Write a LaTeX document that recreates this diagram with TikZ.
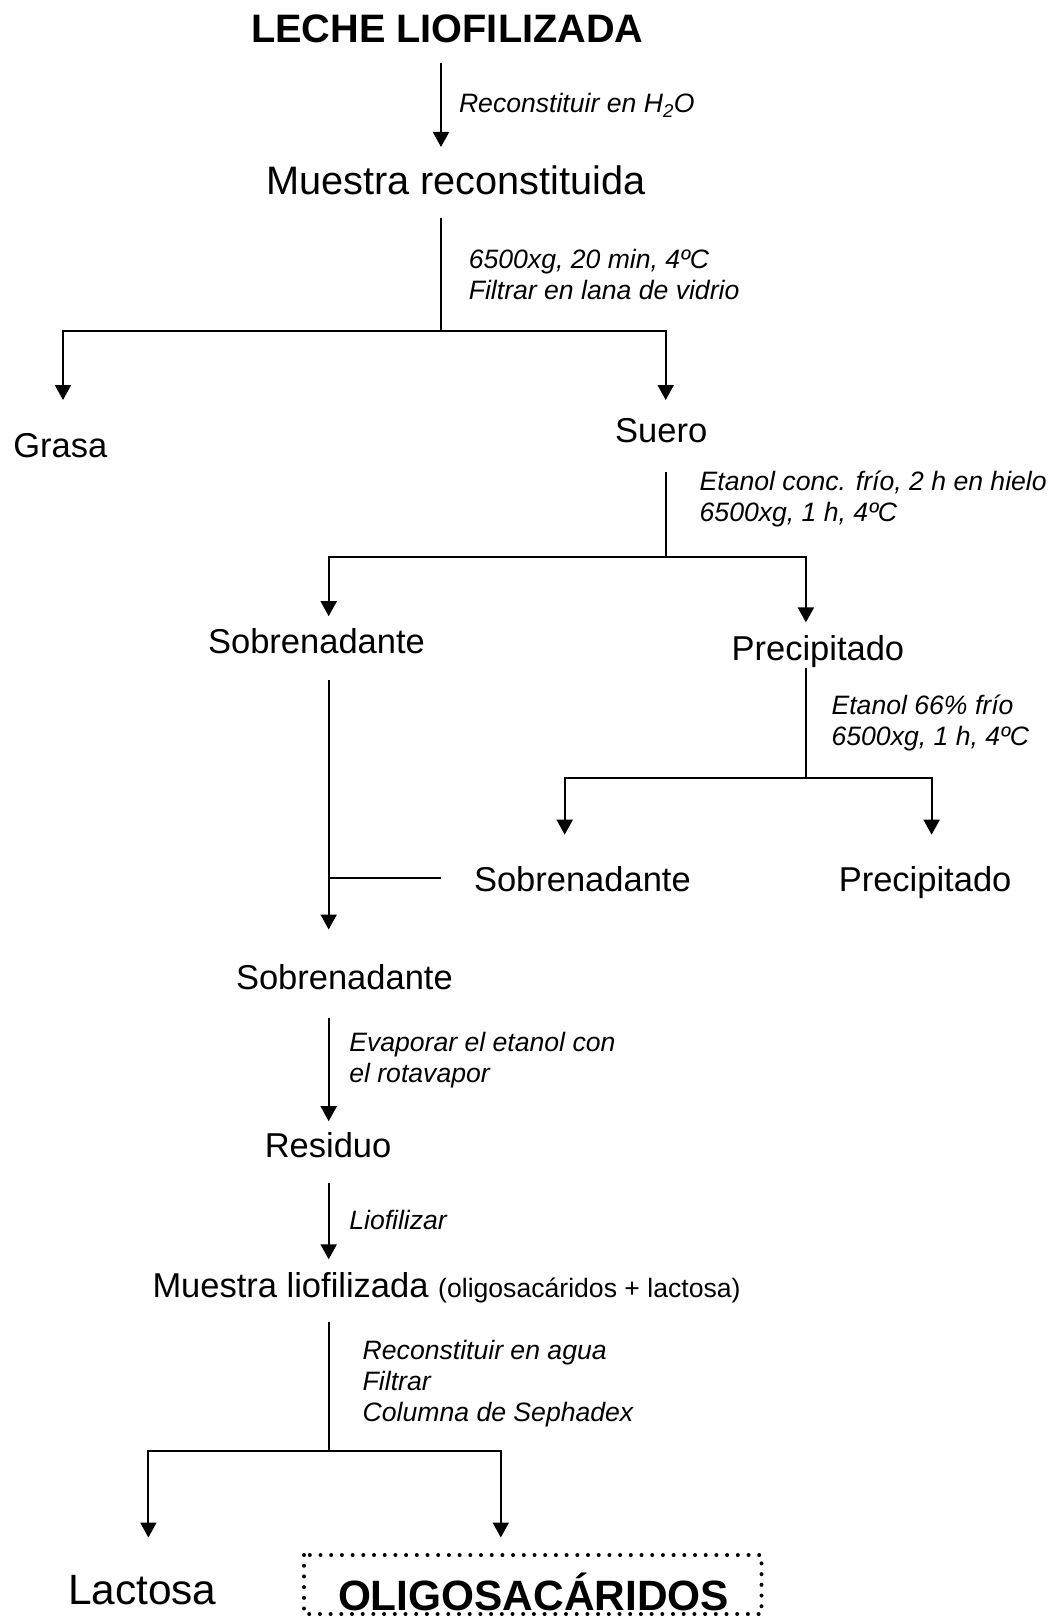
\documentclass[tikz,border=0pt]{standalone}
\usepackage{fontspec}
\setmainfont{Liberation Sans}
\usetikzlibrary{arrows.meta}
\begin{document}
\begin{tikzpicture}[x=1pt,y=-1pt,
  line width=2pt,
  flow/.style={-{Triangle[width=16pt,length=15pt]}},
  lbl/.style={inner sep=0pt,anchor=base west,font=\fontsize{34.5}{40}\selectfont},
  big/.style={inner sep=0pt,anchor=base west,font=\fontsize{39.7}{46}\selectfont},
  note/.style={inner sep=0pt,anchor=base west,align=left,
    font=\fontsize{26.6}{30.9}\selectfont\itshape},
  heavy/.style={inner sep=0pt,anchor=base west,font=\fontsize{42.4}{48}\selectfont\bfseries},
  dotbox/.style={draw,line width=4pt,line cap=round,dash pattern=on 0pt off 10.7pt}]
\useasboundingbox (0,0) rectangle (1048,1616);

% --- nodes ---
\node[inner sep=0pt,anchor=base west,font=\fontsize{39.7}{46}\selectfont\bfseries] (leche) at (250,43) {LECHE LIOFILIZADA};
\node[big] (mrec) at (265,195) {Muestra reconstituida};
\node[lbl] (grasa) at (12.4,457.6) {Grasa};
\node[lbl] (suero) at (614.2,442) {Suero};
\node[lbl] (sob1) at (207.1,653.4) {Sobrenadante};
\node[lbl] (pre1) at (730.6,660.6) {Precipitado};
\node[lbl] (sob2) at (473,891.4) {Sobrenadante};
\node[lbl] (pre2) at (837.8,891.4) {Precipitado};
\node[lbl] (sob3) at (235,989.3) {Sobrenadante};
\node[lbl] (resid) at (263.8,1157.3) {Residuo};
\node[lbl] (mlio) at (151.5,1297.4) {Muestra liofilizada {\fontsize{26.6}{30}\selectfont(oligosacáridos + lactosa)}};
\node[inner sep=0pt,anchor=base west,font=\fontsize{42.4}{48}\selectfont] (lact) at (67,1604) {Lactosa};
\node[heavy] (oligo) at (337,1610) {OLIGOSACÁRIDOS};
\draw[dotbox] (304,1555) rectangle (761.5,1614);

% --- step notes (anchored at the baseline of their last line) ---
\node[note] (n1) at (458,113) {Reconstituir en H\textsubscript{2}O};
\node[note] (n2) at (467.8,299.1) {6500xg, 20 min, 4ºC\\Filtrar en lana de vidrio};
\node[note] (n3) at (698.7,521.7) {Etanol conc. frío, 2 h en hielo\\6500xg, 1 h, 4ºC};
\node[note] (n4) at (830.6,745.3) {Etanol 66\% frío\\6500xg, 1 h, 4ºC};
\node[note] (n5) at (348.3,1082.3) {Evaporar el etanol con\\el rotavapor};
\node[note] (n6) at (348.3,1229.6) {Liofilizar};
\node[note] (n7) at (361.7,1421.3) {Reconstituir en agua\\Filtrar\\Columna de Sephadex};

% --- junction and end points ---
\coordinate (a0) at (441,63);
\coordinate (a0e) at (441,147);
\coordinate (b0) at (441,218);
\coordinate (b1) at (441,330.5);
\coordinate (bl) at (63,330.5);
\coordinate (br) at (665.7,330.5);
\coordinate (blt) at (63,400);
\coordinate (brt) at (665.7,400);
\coordinate (c0) at (665.7,472);
\coordinate (c1) at (665.7,556.5);
\coordinate (cl) at (328.7,556.5);
\coordinate (cr) at (805.9,556.5);
\coordinate (clt) at (328.7,616.2);
\coordinate (crt) at (805.9,622.4);
\coordinate (d0) at (328.7,680.1);
\coordinate (dj) at (328.7,878);
\coordinate (dje) at (441,878);
\coordinate (dt) at (328.7,929.5);
\coordinate (e0) at (805.9,667.8);
\coordinate (e1) at (805.9,778);
\coordinate (el) at (564.7,778);
\coordinate (er) at (931.6,778);
\coordinate (elt) at (564.7,834.7);
\coordinate (ert) at (931.6,834.7);
\coordinate (f0) at (328.7,1018.1);
\coordinate (ft) at (328.7,1121.2);
\coordinate (g0) at (328.7,1183);
\coordinate (gt) at (328.7,1259.3);
\coordinate (h0) at (328.7,1322.1);
\coordinate (h1) at (328.7,1451);
\coordinate (hl) at (148.4,1451);
\coordinate (hr) at (500.8,1451);
\coordinate (hlt) at (148.4,1537.5);
\coordinate (hrt) at (500.8,1537.5);

% --- connectors ---
\draw[flow] (a0) -- (a0e);
\draw (b0) -- (b1);
\draw[flow] (b1) -- (bl) -- (blt);
\draw[flow] (b1) -- (br) -- (brt);
\draw (c0) -- (c1);
\draw[flow] (c1) -- (cl) -- (clt);
\draw[flow] (c1) -- (cr) -- (crt);
\draw[flow] (d0) -- (dt);
\draw (dj) -- (dje);
\draw (e0) -- (e1);
\draw[flow] (e1) -- (el) -- (elt);
\draw[flow] (e1) -- (er) -- (ert);
\draw[flow] (f0) -- (ft);
\draw[flow] (g0) -- (gt);
\draw (h0) -- (h1);
\draw[flow] (h1) -- (hl) -- (hlt);
\draw[flow] (h1) -- (hr) -- (hrt);
\end{tikzpicture}
\end{document}
